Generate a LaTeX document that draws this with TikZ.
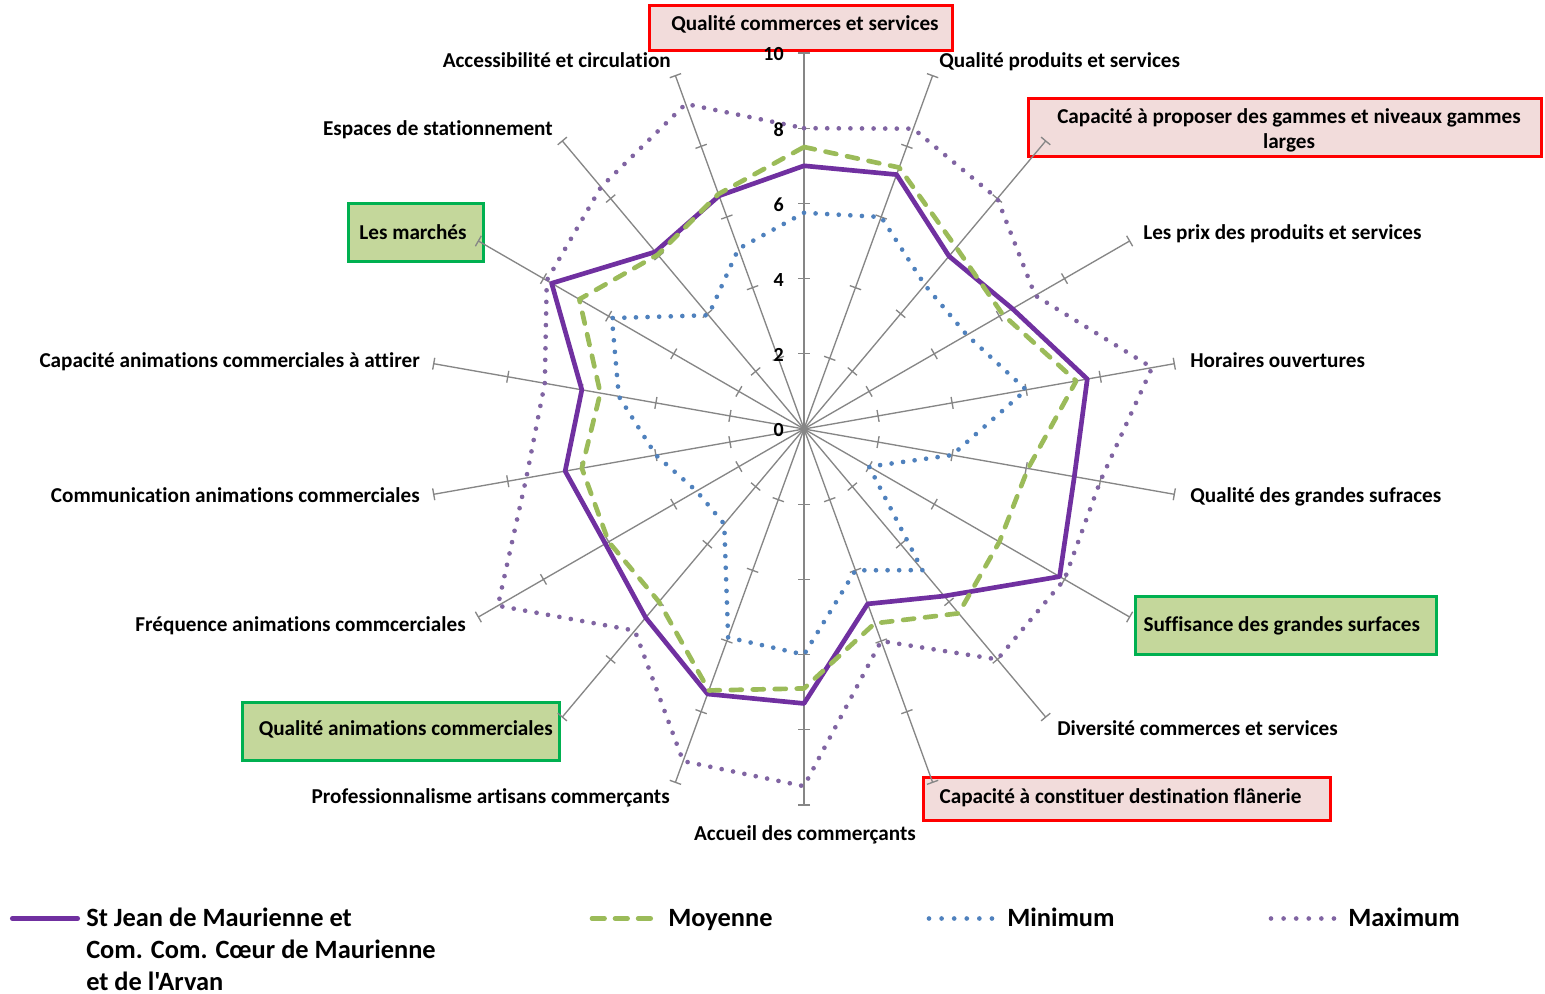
\documentclass[tikz,border=0pt]{standalone}
\usepackage{fontspec}
\setmainfont{Carlito}[Ligatures={TeXOff,CommonOff}]
\definecolor{sjpurple}{HTML}{7030A0}
\definecolor{moygreen}{HTML}{9BBB59}
\definecolor{minblue}{HTML}{4F81BD}
\definecolor{maxpurple}{HTML}{8064A2}
\definecolor{axisgray}{HTML}{868686}
\definecolor{boxred}{HTML}{FF0000}
\definecolor{boxpink}{HTML}{F2DCDB}
\definecolor{boxgreen}{HTML}{00B050}
\definecolor{boxolive}{HTML}{C4D79B}
\begin{document}
\begin{tikzpicture}[x=0.75pt,y=-0.75pt,
  axisline/.style={draw=axisgray,line width=1pt},
  sjline/.style={draw=sjpurple,line width=3.5pt,line join=round,line cap=round},
  moyline/.style={draw=moygreen,line width=3.5pt,line join=round,line cap=round,dash pattern=on 8.25pt off 8.25pt},
  minline/.style={draw=minblue,line width=3.5pt,line cap=round,dash pattern=on 0pt off 8.7pt},
  maxline/.style={draw=maxpurple,line width=3.5pt,line cap=round,dash pattern=on 0pt off 8.7pt},
  lab/.style={font=\fontsize{15.9}{19}\selectfont\bfseries,inner sep=0pt},
  leg/.style={font=\fontsize{19.8}{24}\selectfont\bfseries,inner sep=0pt},
  ticklab/.style={font=\fontsize{15}{18}\selectfont\bfseries,inner sep=0pt,anchor=east},
  redbox/.style={draw=boxred,fill=boxpink,line width=2.4pt},
  greenbox/.style={draw=boxgreen,fill=boxolive,line width=2.4pt},
]
\fill[white] (0,0) rectangle (1545,994);
\useasboundingbox (0,0) rectangle (1545,994);

% label boxes
\draw[redbox] (649.8,5.5) rectangle (952.8,50.8);
\draw[redbox] (1028.8,98.2) rectangle (1541.5,156.2);
\draw[greenbox] (348.5,203.2) rectangle (483.5,261.2);
\draw[greenbox] (1135.8,596.5) rectangle (1436.5,654.5);
\draw[greenbox] (242.5,702.2) rectangle (559.2,760.2);
\draw[redbox] (923.2,777.5) rectangle (1330.5,820.5);

% axes
\coordinate (C) at (804,429);
\foreach \k in {0,...,17} {
  \pgfmathsetmacro\a{90-20*\k}
  \coordinate (e\k) at ({804+376*cos(\a)},{429-376*sin(\a)});
  \draw[axisline] (C) -- (e\k);
  \foreach \r in {75.2,150.4,225.6,300.8,376} {
    \draw[axisline] ({804+\r*cos(\a)-6*sin(\a)},{429-\r*sin(\a)-6*cos(\a)}) -- ({804+\r*cos(\a)+6*sin(\a)},{429-\r*sin(\a)+6*cos(\a)});
  }
}

% series
\foreach \v [count=\i] in {7.0,7.2,6.0,6.4,7.65,7.3,7.85,5.8,4.95,7.3,7.5,6.55,6.1,6.45,6.0,7.75,6.15,6.6}
  {\coordinate (sj\i) at ({804+37.6*\v*cos(110-20*\i)},{429-37.6*\v*sin(110-20*\i)});}
\foreach \v [count=\i] in {7.5,7.4,6.3,6.1,7.35,6.05,6.0,6.4,5.5,6.9,7.4,6.0,6.0,6.0,5.5,6.9,6.05,6.65}
  {\coordinate (mo\i) at ({804+37.6*\v*cos(110-20*\i)},{429-37.6*\v*sin(110-20*\i)});}
\foreach \v [count=\i] in {5.75,6.0,5.0,5.0,6.0,4.0,2.0,4.9,4.0,6.0,5.9,3.3,3.3,4.0,5.0,5.9,3.95,5.1}
  {\coordinate (mi\i) at ({804+37.6*\v*cos(110-20*\i)},{429-37.6*\v*sin(110-20*\i)});}
\foreach \v [count=\i] in {8.0,8.5,8.0,7.1,9.4,8.0,8.0,8.0,6.0,9.5,9.4,7.0,9.4,7.5,7.0,7.9,8.4,9.2}
  {\coordinate (ma\i) at ({804+37.6*\v*cos(110-20*\i)},{429-37.6*\v*sin(110-20*\i)});}

\draw[sjline] (sj1) \foreach \i in {2,...,18}{-- (sj\i)} -- cycle;
\draw[moyline] (mo1) \foreach \i in {2,...,18}{-- (mo\i)} -- cycle;
\draw[minline] (mi1) \foreach \i in {2,...,18}{-- (mi\i)} -- cycle;
\draw[maxline] (ma1) \foreach \i in {2,...,18}{-- (ma\i)} -- cycle;

% scale labels
\node[ticklab] (v0) at (784,430.5) {0};
\node[ticklab] (v2) at (784,355.3) {2};
\node[ticklab] (v4) at (784,280.1) {4};
\node[ticklab] (v6) at (784,204.9) {6};
\node[ticklab] (v8) at (784,129.7) {8};
\node[ticklab] (v10) at (784,54.5) {10};

% axis labels
\node[lab,anchor=base] (t0) at (805,31) {Qualité commerces et services};
\node[lab,anchor=base west] (t1) at (939,68) {Qualité produits et services};
\node[lab,anchor=base] (t2a) at (1289,123.3) {Capacité à proposer des gammes et niveaux gammes};
\node[lab,anchor=base] (t2b) at (1289,148.3) {larges};
\node[lab,anchor=base west] (t3) at (1143,240) {Les prix des produits et services};
\node[lab,anchor=base west] (t4) at (1190,368) {Horaires ouvertures};
\node[lab,anchor=base west] (t5) at (1190,503) {Qualité des grandes sufraces};
\node[lab,anchor=base west] (t6) at (1143.3,631) {Suffisance des grandes surfaces};
\node[lab,anchor=base west] (t7) at (1057,735) {Diversité commerces et services};
\node[lab,anchor=base west] (t8) at (939.3,803) {Capacité à constituer destination flânerie};
\node[lab,anchor=base] (t9) at (805,840) {Accueil des commerçants};
\node[lab,anchor=base east] (t10) at (670,803) {Professionnalisme artisans commerçants};
\node[lab,anchor=base east] (t11) at (553,735) {Qualité animations commerciales};
\node[lab,anchor=base east] (t12) at (466,631) {Fréquence animations commcerciales};
\node[lab,anchor=base east] (t13) at (420,503) {Communication animations commerciales};
\node[lab,anchor=base east] (t14) at (420,368) {Capacité animations commerciales à attirer};
\node[lab,anchor=base] (t15) at (413,240) {Les marchés};
\node[lab,anchor=base east] (t16) at (553,136) {Espaces de stationnement};
\node[lab,anchor=base east] (t17) at (671,68) {Accessibilité et circulation};

% legend
\coordinate (la1) at (12.3,918.5); \coordinate (lb1) at (77.7,918.5);
\draw[sjline] (la1) -- (lb1);
\node[leg,anchor=base west] (g1a) at (86,926.5) {St Jean de Maurienne et};
\node[leg,anchor=base west] (g1b) at (86,958.5) {Com. Com. Cœur de Maurienne};
\node[leg,anchor=base west] (g1c) at (86,990.5) {et de l'Arvan};
\coordinate (la2) at (592,918.5); \coordinate (lb2) at (651,918.5);
\draw[moyline,dash pattern=on 9.4pt off 7.9pt] (la2) -- (lb2);
\node[leg,anchor=base west] (g2) at (668,926.5) {Moyenne};
\coordinate (la3) at (929,918.5); \coordinate (lb3) at (992,918.5);
\draw[minline,dash pattern=on 0pt off 9.44pt] (la3) -- (lb3);
\node[leg,anchor=base west] (g3) at (1007,926.5) {Minimum};
\coordinate (la4) at (1271,918.5); \coordinate (lb4) at (1334,918.5);
\draw[maxline,dash pattern=on 0pt off 9.44pt] (la4) -- (lb4);
\node[leg,anchor=base west] (g4) at (1348,926.5) {Maximum};
\end{tikzpicture}
\end{document}
